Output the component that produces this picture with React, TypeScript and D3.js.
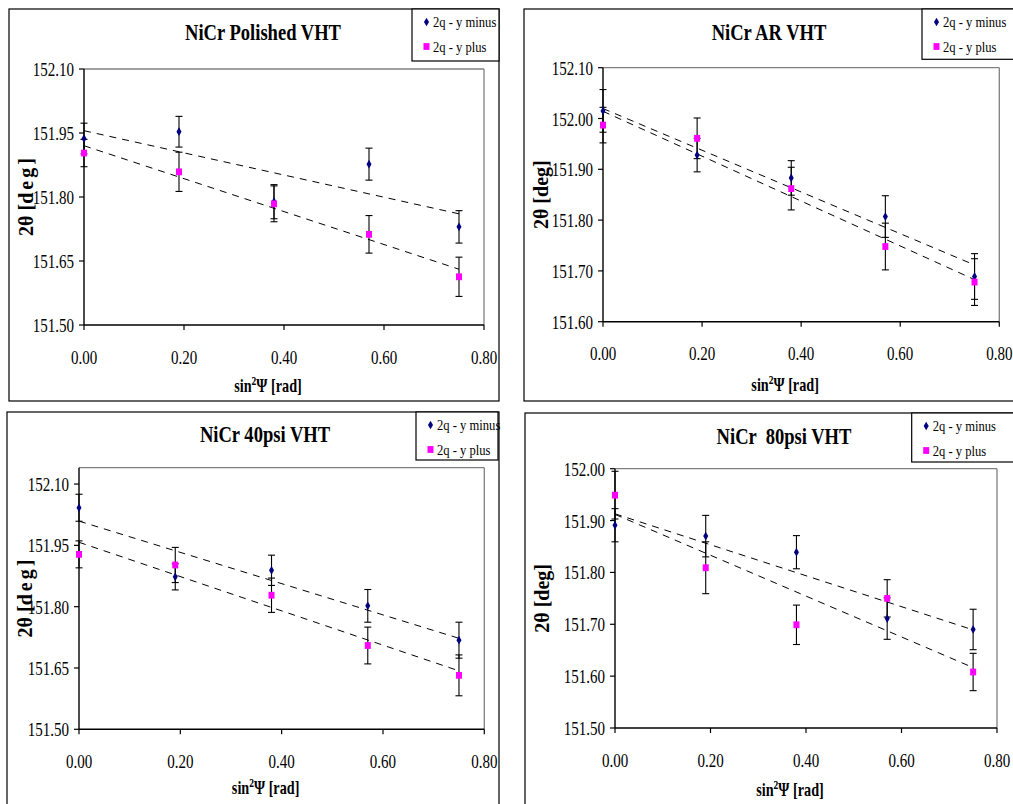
import React from "react";
import * as d3 from "d3";

// ---------- data ----------
const xValues = [0, 0.19, 0.38, 0.57, 0.75];
const seriesNames = ["2q - y minus", "2q - y plus"];
const panelTitles = ["NiCr Polished VHT", "NiCr AR VHT", "NiCr 40psi VHT", "NiCr  80psi VHT"];
const xTicks = [0, 0.2, 0.4, 0.6, 0.8];

const polishedMinus = [151.937, 151.953, 151.789, 151.877, 151.73];
const polishedPlus = [151.903, 151.859, 151.784, 151.7125, 151.613];
const polishedMinusErr = [0.036, 0.036, 0.04, 0.0375, 0.038];
const polishedPlusErr = [0.032, 0.046, 0.042, 0.044, 0.046];
const polishedYTicks = [151.5, 151.65, 151.8, 151.95, 152.1];
const polishedYDomain = [151.5, 152.1];

const arMinus = [152.015, 151.928, 151.883, 151.807, 151.689];
const arPlus = [151.987, 151.961, 151.862, 151.748, 151.678];
const arMinusErr = [0.042, 0.033, 0.034, 0.041, 0.045];
const arPlusErr = [0.035, 0.04, 0.042, 0.046, 0.046];
const arYTicks = [151.6, 151.7, 151.8, 151.9, 152.0, 152.1];
const arYDomain = [151.6, 152.1];

const psi40Minus = [152.042, 151.873, 151.889, 151.802, 151.718];
const psi40Plus = [151.928, 151.902, 151.828, 151.705, 151.632];
const psi40MinusErr = [0.033, 0.032, 0.037, 0.04, 0.044];
const psi40PlusErr = [0.033, 0.043, 0.042, 0.045, 0.05];
const psi40YTicks = [151.5, 151.65, 151.8, 151.95, 152.1];
const psi40YDomain = [151.5, 152.14];

const psi80Minus = [151.891, 151.87, 151.839, 151.711, 151.69];
const psi80Plus = [151.949, 151.809, 151.699, 151.75, 151.608];
const psi80MinusErr = [0.032, 0.04, 0.032, 0.04, 0.039];
const psi80PlusErr = [0.046, 0.05, 0.038, 0.036, 0.036];
const psi80YTicks = [151.5, 151.6, 151.7, 151.8, 151.9, 152.0];
const psi80YDomain = [151.5, 152.0];

// ---------- layout ----------
const FONT = "'Liberation Serif', 'Times New Roman', serif";
const SX = 0.79;
const MINUS_COLOR = "#000080";
const PLUS_COLOR = "#FF00FF";

type Panel = {
  title: string;
  minus: number[];
  plus: number[];
  minusErr: number[];
  plusErr: number[];
  yTicks: number[];
  yDomain: number[];
  frame: [number, number, number, number];
  plot: [number, number, number, number]; // x0, y0, x1, y1
  legend: [number, number, number, number];
  titleXY: [number, number];
  yTitleX: number;
  yTitleSpaced: boolean;
  xTitleY: number;
};

const panels: Panel[] = [
  {
    title: panelTitles[0],
    minus: polishedMinus, plus: polishedPlus, minusErr: polishedMinusErr, plusErr: polishedPlusErr,
    yTicks: polishedYTicks, yDomain: polishedYDomain,
    frame: [9, 9, 490, 392],
    plot: [84, 69, 484, 325],
    legend: [412, 9, 87, 52],
    titleXY: [263, 40],
    yTitleX: 26,
    yTitleSpaced: true,
    xTitleY: 392,
  },
  {
    title: panelTitles[1],
    minus: arMinus, plus: arPlus, minusErr: arMinusErr, plusErr: arPlusErr,
    yTicks: arYTicks, yDomain: arYDomain,
    frame: [524, 9, 520, 392],
    plot: [603, 67.7, 999.3, 321.7],
    legend: [922, 9, 120, 50.3],
    titleXY: [769, 40],
    yTitleX: 541,
    yTitleSpaced: false,
    xTitleY: 391,
  },
  {
    title: panelTitles[2],
    minus: psi40Minus, plus: psi40Plus, minusErr: psi40MinusErr, plusErr: psi40PlusErr,
    yTicks: psi40YTicks, yDomain: psi40YDomain,
    frame: [7, 412, 492, 420],
    plot: [79, 467.7, 484.3, 729.3],
    legend: [416, 412, 82, 48],
    titleXY: [265, 442],
    yTitleX: 25,
    yTitleSpaced: true,
    xTitleY: 794,
  },
  {
    title: panelTitles[3],
    minus: psi80Minus, plus: psi80Plus, minusErr: psi80MinusErr, plusErr: psi80PlusErr,
    yTicks: psi80YTicks, yDomain: psi80YDomain,
    frame: [525, 413, 520, 420],
    plot: [615, 468.7, 997, 728],
    legend: [911.7, 413, 130, 49],
    titleXY: [784, 443.5],
    yTitleX: 541.5,
    yTitleSpaced: false,
    xTitleY: 796,
  },
];

function linearFit(xs: number[], ys: number[]) {
  const mx = d3.mean(xs) as number;
  const my = d3.mean(ys) as number;
  let sxy = 0, sxx = 0;
  xs.forEach((x, i) => {
    sxy += (x - mx) * (ys[i] - my);
    sxx += (x - mx) * (x - mx);
  });
  const slope = sxy / sxx;
  return { slope, intercept: my - slope * mx };
}

function T(props: {
  x: number; y: number; size: number; anchor?: string; weight?: string | number; sx?: number; children: any;
}) {
  const { x, y, size, anchor = "start", weight = "normal", sx = SX, children } = props;
  return (
    <text
      transform={`translate(${x},${y}) scale(${sx},1)`}
      textAnchor={anchor}
      fontSize={size}
      fontWeight={weight}
      fontFamily={FONT}
      fill="#000"
      style={{ whiteSpace: "pre" }}
    >
      {children}
    </text>
  );
}

const diamondPath = d3.symbol(d3.symbolDiamond, 22)() as string;

function ChartPanel({ p }: { p: Panel }) {
  const [px0, py0, px1, py1] = p.plot;
  const x = d3.scaleLinear().domain([0, 0.8]).range([px0, px1]);
  const y = d3.scaleLinear().domain(p.yDomain).range([py1, py0]);
  const fmt = d3.format(".2f");
  const series = [
    { vals: p.minus, err: p.minusErr, color: MINUS_COLOR, kind: "diamond" },
    { vals: p.plus, err: p.plusErr, color: PLUS_COLOR, kind: "square" },
  ];
  const xMax = d3.max(xValues) as number;
  const [lx, ly, lw, lh] = p.legend;
  return (
    <g>
      <rect x={p.frame[0]} y={p.frame[1]} width={p.frame[2]} height={p.frame[3]} fill="#fff" stroke="#000" strokeWidth={1.2} />
      {/* plot area: gray top/right, black axes */}
      <line x1={px0} y1={py0} x2={px1} y2={py0} stroke="#808080" strokeWidth={1.3} />
      <line x1={px1} y1={py0} x2={px1} y2={py1} stroke="#808080" strokeWidth={1.3} />
      <line x1={px0} y1={py0} x2={px0} y2={py1} stroke="#000" strokeWidth={1.4} />
      <line x1={px0} y1={py1} x2={px1} y2={py1} stroke="#000" strokeWidth={1.4} />
      {/* y ticks */}
      {p.yTicks.map((t) => (
        <g key={"y" + t}>
          <line x1={px0 - 5} x2={px0} y1={y(t)} y2={y(t)} stroke="#000" strokeWidth={1.2} />
          <T x={px0 - 10} y={y(t) + 7} size={19} anchor="end">{fmt(t)}</T>
        </g>
      ))}
      {/* x ticks */}
      {xTicks.map((t) => (
        <g key={"x" + t}>
          <line x1={x(t)} x2={x(t)} y1={py1} y2={py1 + 5} stroke="#000" strokeWidth={1.2} />
          <T x={x(t)} y={py1 + 38.5} size={19} anchor="middle">{fmt(t)}</T>
        </g>
      ))}
      {/* trend lines */}
      {series.map((s, i) => {
        const f = linearFit(xValues, s.vals);
        return (
          <line
            key={"tr" + i}
            x1={x(0)}
            y1={y(f.intercept)}
            x2={x(xMax)}
            y2={y(f.intercept + f.slope * xMax)}
            stroke="#000"
            strokeWidth={1}
            strokeDasharray="7,6"
          />
        );
      })}
      {/* error bars */}
      {series.map((s, i) =>
        s.vals.map((v, j) => {
          const cx = x(xValues[j]);
          const top = y(v + s.err[j]);
          const bot = y(v - s.err[j]);
          return (
            <g key={"e" + i + "-" + j} stroke="#000" strokeWidth={1.1}>
              <line x1={cx} x2={cx} y1={top} y2={bot} />
              <line x1={cx - 3.5} x2={cx + 3.5} y1={top} y2={top} />
              <line x1={cx - 3.5} x2={cx + 3.5} y1={bot} y2={bot} />
            </g>
          );
        })
      )}
      {/* markers */}
      {series.map((s, i) =>
        s.vals.map((v, j) =>
          s.kind === "diamond" ? (
            <path key={"m" + i + j} d={diamondPath} transform={`translate(${x(xValues[j])},${y(v)})`} fill={s.color} />
          ) : (
            <rect key={"m" + i + j} x={x(xValues[j]) - 3} y={y(v) - 3.4} width={6} height={6.8} fill={s.color} />
          )
        )
      )}
      {/* title */}
      <T x={p.titleXY[0]} y={p.titleXY[1]} size={23.5} anchor="middle" weight="bold">{p.title}</T>
      {/* y title */}
      <text
        transform={`translate(${p.yTitleX + 7},${(py0 + py1) / 2}) rotate(-90)`}
        textAnchor="middle"
        fontSize={20}
        fontWeight="bold"
        fontFamily={FONT}
        fill="#000"
      >
        2θ [<tspan letterSpacing={p.yTitleSpaced ? 3 : 0}>deg</tspan>]
      </text>
      {/* x title */}
      <text
        transform={`translate(${(px0 + px1) / 2 - 16},${p.xTitleY}) scale(${SX},1)`}
        textAnchor="middle"
        fontSize={18}
        fontWeight="bold"
        fontFamily={FONT}
        fill="#000"
      >
        sin<tspan fontSize={12} dy={-7}>2</tspan>
        <tspan dy={7}>Ψ [rad]</tspan>
      </text>
      {/* legend */}
      <rect x={lx} y={ly} width={lw} height={lh} fill="#fff" stroke="#000" strokeWidth={1.2} />
      {seriesNames.map((name, i) => {
        const ry = ly + 13 + i * 24.5;
        return (
          <g key={"lg" + i}>
            {i === 0 ? (
              <path d={diamondPath} transform={`translate(${lx + 14.5},${ry})`} fill={MINUS_COLOR} />
            ) : (
              <rect x={lx + 11.5} y={ry - 3.4} width={6} height={6.8} fill={PLUS_COLOR} />
            )}
            <T x={lx + 21} y={ry + 5} size={15} sx={0.84}>{name}</T>
          </g>
        );
      })}
    </g>
  );
}

export default function App() {
  return (
    <svg
      width={1013}
      height={804}
      style={{ position: "absolute", left: 0, top: 0, background: "#fff" }}
    >
      <rect x={0} y={0} width={1013} height={804} fill="#fff" />
      {panels.map((p, i) => (
        <ChartPanel key={i} p={p} />
      ))}
    </svg>
  );
}
